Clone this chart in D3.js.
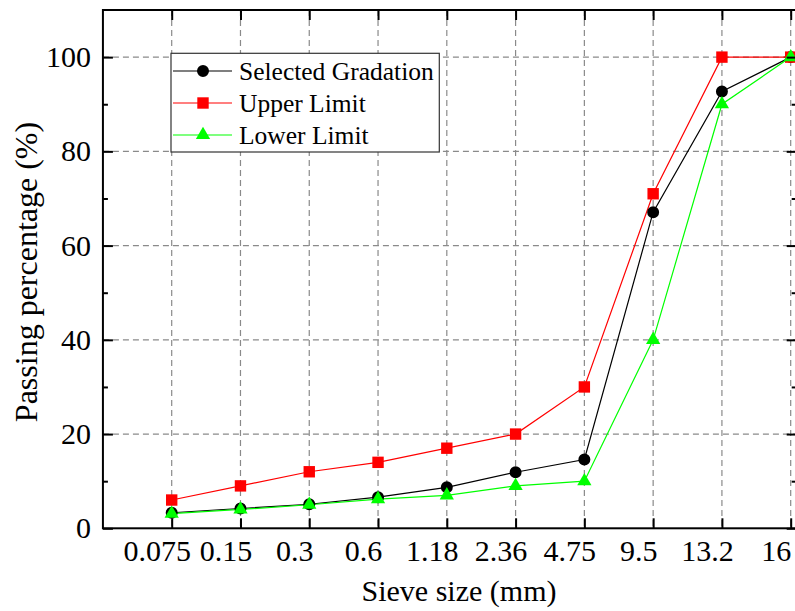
<!DOCTYPE html>
<html>
<head>
<meta charset="utf-8">
<script src="https://cdn.jsdelivr.net/npm/d3@7"></script>
<style>
  body { margin: 0; background: white; }
  svg { display: block; }
</style>
</head>
<body>
<svg width="795" height="611"></svg>
<script>
// Data
const SIEVES = ["0.075", "0.15", "0.3", "0.6", "1.18", "2.36", "4.75", "9.5", "13.2", "16"];
const SELECTED = [3.3, 4.2, 5.1, 6.6, 8.7, 11.9, 14.6, 67.1, 92.7, 100];
const UPPER = [6, 9, 12, 14, 17, 20, 30, 71, 100, 100];
const LOWER = [3.1, 4, 5, 6.2, 7, 9, 10, 40, 90, 100];
const Y_MAJOR = [0, 20, 40, 60, 80, 100];
const Y_MINOR = [10, 30, 50, 70, 90];
const SERIES_NAMES = ["Selected Gradation", "Upper Limit", "Lower Limit"];

const
  FONT = "Liberation Serif",
  svg = d3.select("svg").attr("font-family", FONT),
  x = d3.scalePoint().domain(SIEVES).range([171.7, 790.7]),
  y = d3.scaleLinear().domain([0, 110]).range([528.3, 10]),
  plot_left = x(SIEVES[0]) - x.step(),
  plot_right = x(SIEVES[SIEVES.length - 1]) + 6,
  plot_top = y(110),
  plot_bottom = y(0),
  series = [
    {name: SERIES_NAMES[0], values: SELECTED, color: "#000000", symbol: d3.symbolCircle, size: 113},
    {name: SERIES_NAMES[1], values: UPPER, color: "#ff0000", symbol: d3.symbolSquare, size: 130},
    {name: SERIES_NAMES[2], values: LOWER, color: "#00ff00", symbol: d3.symbolTriangle, size: 88},
  ]
;

// Dashed grid
const grid = svg.append("g")
  .attr("stroke", "#8a8a8a")
  .attr("stroke-width", 1.2)
  .attr("stroke-dasharray", "6,4")
;
grid.selectAll(".h").data(Y_MAJOR.slice(1)).enter()
  .append("line")
    .attr("x1", plot_left).attr("x2", plot_right)
    .attr("y1", d => y(d)).attr("y2", d => y(d))
;
grid.selectAll(".v").data(SIEVES).enter()
  .append("line")
    .attr("x1", d => x(d)).attr("x2", d => x(d))
    .attr("y1", plot_top).attr("y2", plot_bottom)
;

// Lines and markers
const line = d3.line()
  .x((d, i) => x(SIEVES[i]))
  .y(d => y(d))
;
series.forEach(function(s) {
  svg.append("path")
    .attr("d", line(s.values))
    .attr("fill", "none")
    .attr("stroke", s.color)
    .attr("stroke-width", 1.2)
  ;
});
series.forEach(function(s) {
  svg.append("g")
    .selectAll("path")
    .data(s.values).enter()
    .append("path")
      .attr("transform", (d, i) => `translate(${x(SIEVES[i])},${y(d)})`)
      .attr("d", d3.symbol(s.symbol, s.size))
      .attr("fill", s.color)
  ;
});

// Frame
svg.append("rect")
  .attr("x", plot_left).attr("y", plot_top)
  .attr("width", plot_right - plot_left).attr("height", plot_bottom - plot_top)
  .attr("fill", "none")
  .attr("stroke", "black")
  .attr("stroke-width", 2)
;

// Axes with inward ticks
function style_axis(g) {
  g.attr("font-family", FONT).attr("font-size", 30);
  g.select(".domain").remove();
  g.selectAll("line").attr("stroke-width", 2);
  g.selectAll("text").attr("fill", "black");
}
svg.append("g")
  .attr("transform", `translate(${plot_left},0)`)
  .call(d3.axisLeft(y).tickValues(Y_MAJOR).tickSizeInner(-10).tickSizeOuter(0).tickPadding(12))
  .call(style_axis)
;
svg.append("g")
  .attr("transform", `translate(${plot_left},0)`)
  .call(d3.axisLeft(y).tickValues(Y_MINOR).tickSizeInner(-5).tickSizeOuter(0).tickFormat(""))
  .call(style_axis)
;
svg.append("g")
  .attr("transform", `translate(${plot_right},0)`)
  .call(d3.axisRight(y).tickValues(Y_MAJOR).tickSizeInner(-10).tickSizeOuter(0).tickFormat(""))
  .call(style_axis)
;
svg.append("g")
  .attr("transform", `translate(${plot_right},0)`)
  .call(d3.axisRight(y).tickValues(Y_MINOR).tickSizeInner(-5).tickSizeOuter(0).tickFormat(""))
  .call(style_axis)
;
svg.append("g")
  .attr("transform", `translate(0,${plot_bottom})`)
  .call(d3.axisBottom(x).tickSizeInner(-10).tickSizeOuter(0).tickPadding(11.5))
  .call(style_axis)
  .call(g => g.selectAll("text").attr("x", -15))
;
svg.append("g")
  .attr("transform", `translate(0,${plot_top})`)
  .call(d3.axisTop(x).tickSizeInner(-10).tickSizeOuter(0).tickFormat(""))
  .call(style_axis)
;

// Axis titles
svg.append("text")
  .attr("x", 459).attr("y", 601)
  .attr("text-anchor", "middle")
  .attr("font-family", FONT)
  .attr("font-size", 30)
  .text("Sieve size (mm)")
;
svg.append("text")
  .attr("transform", "translate(36.5,272) rotate(-90)")
  .attr("text-anchor", "middle")
  .attr("font-family", FONT)
  .attr("font-size", 32)
  .text("Passing percentage (%)")
;

// Legend
const legend = svg.append("g").attr("transform", "translate(171,53.3)");
legend.append("rect")
  .attr("width", 268.3).attr("height", 98.7)
  .attr("fill", "white")
  .attr("stroke", "#333")
  .attr("stroke-width", 1.2)
;
const rows = legend.selectAll(".row")
  .data(series).enter()
  .append("g")
    .attr("transform", (d, i) => `translate(0,${17.7 + i * 32})`)
;
rows.append("line")
  .attr("x1", 2).attr("x2", 61)
  .attr("stroke", d => d.color)
  .attr("stroke-width", 1.2)
;
rows.append("path")
  .attr("transform", "translate(32,0)")
  .attr("d", d => d3.symbol(d.symbol, d.size)())
  .attr("fill", d => d.color)
;
rows.append("text")
  .attr("x", 68)
  .attr("dy", "0.35em")
  .attr("font-family", FONT)
  .attr("font-size", 25.5)
  .text(d => d.name)
;
</script>
</body>
</html>
